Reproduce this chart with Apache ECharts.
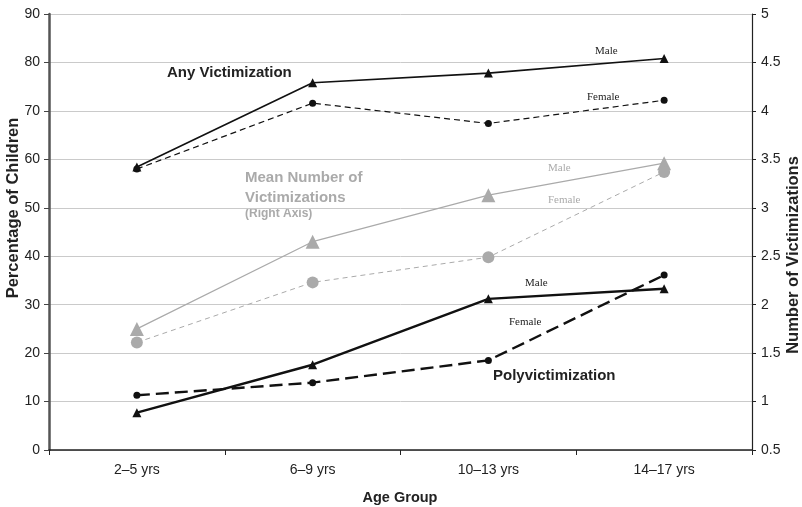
<!DOCTYPE html>
<html><head><meta charset="utf-8">
<script src="https://cdn.jsdelivr.net/npm/echarts@6/dist/echarts.min.js"></script>
<style>html,body{margin:0;padding:0;background:#fff}#c{width:802px;height:507px}</style>
</head><body><div id="c"></div>
<script>
const categories = ['2–5 yrs', '6–9 yrs', '10–13 yrs', '14–17 yrs'];
const anyMale = [58.4, 75.8, 77.8, 80.8];
const anyFemale = [58.0, 71.6, 67.4, 72.2];
const meanMale = [1.75, 2.65, 3.13, 3.46];
const meanFemale = [1.61, 2.23, 2.49, 3.37];
const polyMale = [7.7, 17.6, 31.2, 33.3];
const polyFemale = [11.3, 13.9, 18.5, 36.1];
const leftTicks = [0, 90, 10];
const rightTicks = [0.5, 5, 0.5];

const FONT = '"Liberation Sans", Arial, sans-serif';
const SERIF = '"Liberation Serif", "Times New Roman", serif';
const chart = echarts.init(document.getElementById('c'));
const axisText = { color: '#222', fontSize: 14, fontFamily: FONT };
chart.setOption({
  animation: false,
  grid: { left: 49, right: 50, top: 14, bottom: 57, containLabel: false, outerBoundsMode: 'none' },
  xAxis: {
    type: 'category', data: categories, boundaryGap: true,
    axisLine: { lineStyle: { color: '#222', width: 1.5 } },
    axisTick: { show: true, length: 5, lineStyle: { color: '#222' } },
    axisLabel: Object.assign({ margin: 13 }, axisText),
    splitLine: { show: false }
  },
  yAxis: [{
    type: 'value', min: leftTicks[0], max: leftTicks[1], interval: leftTicks[2], position: 'left',
    axisLine: { show: true, lineStyle: { color: '#555', width: 2.5 } },
    axisTick: { show: true, length: 5, lineStyle: { color: '#444' } },
    axisLabel: Object.assign({ margin: 9 }, axisText),
    splitLine: { show: true, lineStyle: { color: '#cacaca', width: 1 } }
  }, {
    type: 'value', min: rightTicks[0], max: rightTicks[1], interval: rightTicks[2], position: 'right',
    axisLine: { show: true, lineStyle: { color: '#222', width: 1.2 } },
    axisTick: { show: true, length: 4, lineStyle: { color: '#222' } },
    axisLabel: Object.assign({ margin: 9 }, axisText),
    splitLine: { show: false }
  }],
  series: [
    { name: 'Any Male', type: 'line', data: anyMale, yAxisIndex: 0, symbol: 'triangle', symbolSize: 9,
      itemStyle: { color: '#111' }, lineStyle: { color: '#111', width: 1.6 }, z: 5 },
    { name: 'Any Female', type: 'line', data: anyFemale, yAxisIndex: 0, symbol: 'circle', symbolSize: 7,
      itemStyle: { color: '#111' }, lineStyle: { color: '#111', width: 1.2, type: [6, 4] }, z: 5 },
    { name: 'Mean Male', type: 'line', data: meanMale, yAxisIndex: 1, symbol: 'triangle', symbolSize: 14,
      itemStyle: { color: '#aaa' }, lineStyle: { color: '#aaa', width: 1.2 }, z: 3 },
    { name: 'Mean Female', type: 'line', data: meanFemale, yAxisIndex: 1, symbol: 'circle', symbolSize: 12,
      itemStyle: { color: '#aaa' }, lineStyle: { color: '#aaa', width: 1, type: [5, 4] }, z: 3 },
    { name: 'Poly Male', type: 'line', data: polyMale, yAxisIndex: 0, symbol: 'triangle', symbolSize: 9,
      itemStyle: { color: '#111' }, lineStyle: { color: '#111', width: 2.4 }, z: 5 },
    { name: 'Poly Female', type: 'line', data: polyFemale, yAxisIndex: 0, symbol: 'circle', symbolSize: 7,
      itemStyle: { color: '#111' }, lineStyle: { color: '#111', width: 2.4, type: [13, 6] }, z: 5 }
  ],
  graphic: [
    { type: 'text', x: 400, y: 498, style: { text: 'Age Group', fill: '#222', font: 'bold 14.5px ' + FONT, align: 'center', verticalAlign: 'middle' } },
    { type: 'text', x: 13, y: 208, rotation: Math.PI / 2, style: { text: 'Percentage of Children', fill: '#222', font: 'bold 16.5px ' + FONT, align: 'center', verticalAlign: 'middle' } },
    { type: 'text', x: 793, y: 255, rotation: Math.PI / 2, style: { text: 'Number of Victimizations', fill: '#222', font: 'bold 16.5px ' + FONT, align: 'center', verticalAlign: 'middle' } },
    { type: 'text', left: 167, top: 65, style: { text: 'Any Victimization', fill: '#222', font: 'bold 15px ' + FONT } },
    { type: 'text', left: 245, top: 170, style: { text: 'Mean Number of', fill: '#aaa', font: 'bold 15px ' + FONT } },
    { type: 'text', left: 245, top: 190, style: { text: 'Victimizations', fill: '#aaa', font: 'bold 15px ' + FONT } },
    { type: 'text', left: 245, top: 208, style: { text: '(Right Axis)', fill: '#aaa', font: 'bold 12px ' + FONT } },
    { type: 'text', left: 493, top: 368, style: { text: 'Polyvictimization', fill: '#222', font: 'bold 15px ' + FONT } },
    { type: 'text', left: 595, top: 46, style: { text: 'Male', fill: '#222', font: '11px ' + SERIF } },
    { type: 'text', left: 587, top: 92, style: { text: 'Female', fill: '#222', font: '11px ' + SERIF } },
    { type: 'text', left: 548, top: 163, style: { text: 'Male', fill: '#aaa', font: '11px ' + SERIF } },
    { type: 'text', left: 548, top: 195, style: { text: 'Female', fill: '#aaa', font: '11px ' + SERIF } },
    { type: 'text', left: 525, top: 278, style: { text: 'Male', fill: '#222', font: '11px ' + SERIF } },
    { type: 'text', left: 509, top: 317, style: { text: 'Female', fill: '#222', font: '11px ' + SERIF } }
  ]
});
</script></body></html>
